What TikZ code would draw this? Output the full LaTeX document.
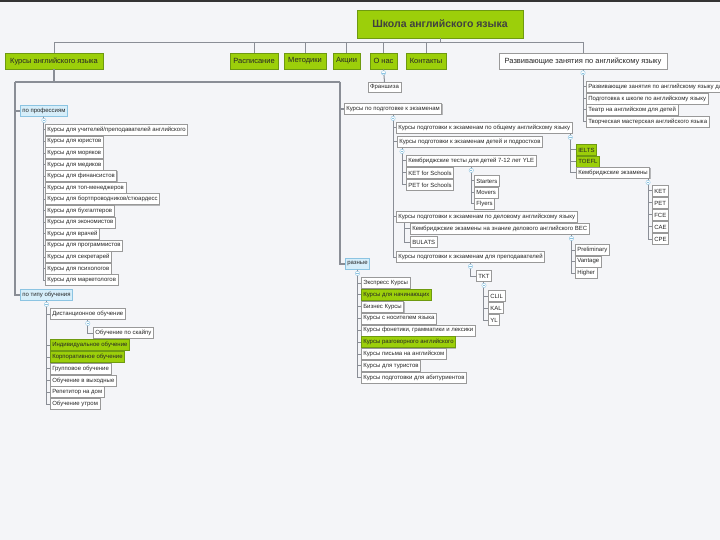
\documentclass[tikz,border=0pt]{standalone}
\usepackage{fontspec}
\setmainfont{Liberation Sans}
\usetikzlibrary{shadows,calc}
\definecolor{bg}{HTML}{F4F5F8}
\definecolor{grn}{HTML}{9CCF0A}
\definecolor{grnd}{HTML}{6E9A10}
\definecolor{lblue}{HTML}{D6EEFA}
\definecolor{lbline}{HTML}{8CC4E2}
\definecolor{lin}{HTML}{8A8E96}
\newcommand\kid[2]{\draw[conn] (#1) |- (#2.west);}
\newcommand\ico[1]{\draw[icon] ($(#1)+(0,3.6)$) circle (2.2pt); \draw[lbline,line width=0.4pt] ($(#1)+(-1.2,3.6)$) -- ($(#1)+(1.2,3.6)$);}
\begin{document}
\begin{tikzpicture}[x=1pt,y=-1pt,
  every node/.style={font=\fontsize{6}{7}\selectfont, text=black!85},
  box/.style={draw=black!40, fill=white, anchor=west, inner xsep=2pt, inner ysep=0pt,
    minimum height=11pt, line width=0.6pt,
    drop shadow={shadow xshift=0.8pt, shadow yshift=-0.8pt, opacity=0.25, fill=black}},
  gbox/.style={box, fill=grn, draw=grnd},
  bbox/.style={box, fill=lblue, draw=lbline},
  topg/.style={box, anchor=center, fill=grn, draw=grnd, minimum height=16pt,
    font=\fontsize{7.5}{9}\selectfont},
  conn/.style={draw=lin, line width=1pt},
  trunk/.style={draw=lin, line width=1.4pt},
  icon/.style={draw=lbline, fill=white, line width=0.4pt},
]
\fill[bg] (0,0) rectangle (720,540);
\fill[black!80] (0,0) rectangle (720,2.5);
\useasboundingbox (0,0) rectangle (720,540);

% title and top row
\node[topg, minimum width=166pt, minimum height=28pt, line width=0.8pt,
  font=\fontsize{10.5}{12}\bfseries, text=black!75] (title) at (440,24) {Школа английского языка};
\coordinate (hb) at (440,43);
\node[topg, minimum width=98pt] (kursy) at (54,61) {Курсы английского языка};
\node[topg, minimum width=48pt] (rasp) at (254,61) {Расписание};
\node[topg, minimum width=42pt] (meth) at (305,61) {Методики};
\node[topg, minimum width=27pt] (akc) at (346.5,61) {Акции};
\node[topg, minimum width=27pt] (onas) at (383.5,61) {О нас};
\node[topg, minimum width=40pt] (kont) at (426,61) {Контакты};
\node[topg, minimum width=168pt, fill=white, draw=black!40] (razv) at (583,61) {Развивающие занятия по английскому языку};

\draw[conn] (title.south) -- (title.south |- hb);
\draw[conn] (kursy.north) -- (kursy.north |- hb) -- (razv.north |- hb) -- (razv.north);
\foreach \n in {rasp,meth,akc,onas,kont} \draw[conn] (\n.north) -- (\n.north |- hb);

\node[box, anchor=north, minimum height=10pt] (fran) at (384.5,82) {Франшиза};
\draw[conn] (onas.south) -- (fran.north);
\ico{onas.south}

% Курсы английского языка
\node[bbox] (prof) at (20,111) {по профессиям};
\node[bbox] (tip) at (20,295) {по типу обучения};
\node[box] (exam) at (344,109) {Курсы по подготовке к экзаменам};
\node[bbox] (raz) at (345,264) {разные};
\coordinate (jL) at (15,82);
\coordinate (jR) at (340,82);
\draw[trunk] (kursy.south) -- (kursy.south |- jL);
\draw[trunk] (jL) -- (jR);
\draw[trunk] (jL) |- (prof.west);
\draw[trunk] (jL) |- (tip.west);
\draw[trunk] (jR) |- (exam.west);
\draw[trunk] (jR) |- (raz.west);

% по профессиям
\foreach \t [count=\i from 0] in {Курсы для учителей/преподавателей английского,Курсы для юристов,Курсы для моряков,Курсы для медиков,Курсы для финансистов,Курсы для топ-менеджеров,Курсы для бортпроводников/стюардесс,Курсы для бухгалтеров,Курсы для экономистов,Курсы для врачей,Курсы для программистов,Курсы для секретарей,Курсы для психологов,Курсы для маркетологов}{
  \node[box] (p\i) at (45,130+11.55*\i) {\t};
  \kid{prof.south}{p\i}
}
\ico{prof.south}

% по типу обучения
\node[box] (t1) at (50,314) {Дистанционное обучение};
\node[box] (t1a) at (93,333) {Обучение по скайпу};
\node[gbox] (t2) at (50,345) {Индивидуальное обучение};
\node[gbox] (t3) at (50,357) {Корпоративное обучение};
\node[box] (t4) at (50,368.5) {Групповое обучение};
\node[box] (t5) at (50,380.5) {Обучение в выходные};
\node[box] (t6) at (50,392) {Репетитор на дом};
\node[box] (t7) at (50,404) {Обучение утром};
\foreach \i in {1,...,7} {\kid{tip.south}{t\i}}
\kid{t1.south}{t1a}
\ico{tip.south}
\ico{t1.south}

% экзамены
\node[box] (e1) at (396,128) {Курсы подготовки к экзаменам по общему английскому языку};
\node[box] (e2) at (397,142) {Курсы подготовки к экзаменам детей и подростков};
\node[box] (e2a) at (406,161) {Кембриджские тесты для детей 7-12 лет YLE};
\node[box] (e2b) at (406,173) {KET for Schools};
\node[box] (e2c) at (406,185) {PET for Schools};
\node[box] (st) at (474,181) {Starters};
\node[box] (mv) at (474,192.5) {Movers};
\node[box] (fl) at (474,204) {Flyers};
\node[box] (e3) at (396,217) {Курсы подготовки к экзаменам по деловому английскому языку};
\node[box] (e3a) at (410,229) {Кембриджские экзамены на знание делового английского BEC};
\node[box] (e3b) at (410,242) {BULATS};
\node[box] (pr) at (575,250) {Preliminary};
\node[box] (va) at (575,261.5) {Vantage};
\node[box] (hi) at (575,273) {Higher};
\node[box] (e4) at (396,257) {Курсы подготовки к экзаменам для преподавателей};
\node[box] (tkt) at (476,276) {TKT};
\node[box] (clil) at (488,296) {CLIL};
\node[box] (kal) at (488,308) {KAL};
\node[box] (yl) at (488,320) {YL};
\node[gbox] (ielts) at (576,150) {IELTS};
\node[gbox] (toefl) at (576,161.5) {TOEFL};
\node[box] (kemb) at (576,173) {Кембриджские экзамены};
\node[box] (ket) at (652,191) {KET};
\node[box] (pet) at (652,203) {PET};
\node[box] (fce) at (652,215) {FCE};
\node[box] (cae) at (652,227) {CAE};
\node[box] (cpe) at (652,239) {CPE};

\coordinate (te1) at ($(e1.south east)+(-2,0)$);
\coordinate (te2) at ($(e2.south west)+(5,0)$);
\coordinate (te3) at ($(e3.south west)+(8,0)$);
\coordinate (te3a) at ($(e3a.south east)+(-18,0)$);
\coordinate (tkemb) at ($(kemb.south east)+(-2,0)$);

\foreach \n in {e1,e2,e3,e4} {\kid{exam.south}{\n}}
\foreach \n in {e2a,e2b,e2c} {\kid{te2}{\n}}
\foreach \n in {st,mv,fl} {\kid{e2a.south}{\n}}
\foreach \n in {e3a,e3b} {\kid{te3}{\n}}
\foreach \n in {pr,va,hi} {\kid{te3a}{\n}}
\kid{e4.south}{tkt}
\foreach \n in {clil,kal,yl} {\kid{tkt.south}{\n}}
\foreach \n in {ielts,toefl,kemb} {\kid{te1}{\n}}
\foreach \n in {ket,pet,fce,cae,cpe} {\kid{tkemb}{\n}}
\ico{exam.south}\ico{te1}\ico{te2}\ico{e2a.south}\ico{te3a}\ico{e4.south}\ico{tkt.south}\ico{tkemb}

% разные
\foreach \t/\s [count=\i from 0] in {Экспресс Курсы/box,Курсы для начинающих/gbox,Бизнес Курсы/box,Курсы с носителем языка/box,{Курсы фонетики, грамматики и лексики}/box,Курсы разговорного английского/gbox,Курсы письма на английском/box,Курсы для туристов/box,Курсы подготовки для абитуриентов/box}{
  \node[\s] (r\i) at (361,283+11.85*\i) {\t};
  \kid{raz.south}{r\i}
}
\ico{raz.south}

% Развивающие
\node[box] (d1) at (586,87) {Развивающие занятия по английскому языку для детей};
\node[box] (d2) at (586,98.5) {Подготовка к школе по английскому языку};
\node[box] (d3) at (586,110) {Театр на английском для детей};
\node[box] (d4) at (586,121.5) {Творческая мастерская английского языка};
\foreach \n in {d1,d2,d3,d4} {\kid{razv.south}{\n}}
\ico{razv.south}
\end{tikzpicture}
\end{document}
